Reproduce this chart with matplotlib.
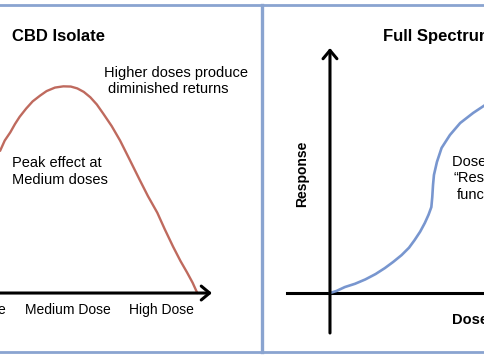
import matplotlib
matplotlib.use('Agg')
import matplotlib.pyplot as plt
from matplotlib.lines import Line2D

plt.rcParams['font.family'] = ['Liberation Sans', 'DejaVu Sans']

# CBD isolate: bell shaped dose response (dose units, response %)
iso_dose = [1.27, 1.32, 1.38, 1.43, 1.48, 1.55, 1.62, 1.70, 1.77, 1.86, 1.95, 2.03, 2.10, 2.17,
            2.24, 2.31, 2.38, 2.47, 2.56, 2.66, 2.77, 2.86, 2.96, 3.04, 3.13, 3.21, 3.28, 3.34, 3.39]
iso_resp = [69, 74, 78, 82, 85.5, 89.5, 93, 95.8, 98, 99.7, 100.3, 100.2, 99.3, 97.6,
            95, 91.5, 87, 81, 74, 65, 55, 47, 39, 31, 22.5, 15.5, 10, 5, 0]
dose_labels = ['Low Dose', 'Medium Dose', 'High Dose']
dose_ticks = [1, 2, 3]

# full spectrum: rising dose response
full_dose = [0, 0.07, 0.16, 0.27, 0.38, 0.49, 0.59, 0.68, 0.77, 0.85, 0.91, 0.97, 1.02, 1.06,
             1.09, 1.10, 1.108, 1.118, 1.15, 1.20, 1.29, 1.40, 1.54, 1.67, 1.88]
full_resp = [0, 1.0, 2.9, 4.5, 6.6, 9.2, 12.1, 15.1, 18.4, 22.0, 25.7, 29.8, 34.0, 38.0,
             41.7, 46.6, 52.4, 57.3, 63.6, 70.4, 76.7, 82.5, 87.4, 91.3, 97]

red = '#bf6a5e'
blue = '#7896cf'
frame = '#8aa4d0'

fig = plt.figure(figsize=(4.85, 3.6), dpi=100)
fig.patch.set_facecolor('white')

# left panel
ax1 = fig.add_axes([0, 0, 262 / 485, 1])
ax1.set_xlim(1.269, 4.086)
ax1.set_ylim(-32.5, 142.2)
ax1.axis('off')

ax1.annotate('', xy=(3.548, 0), xytext=(1.0, 0),
             arrowprops=dict(arrowstyle='->,head_length=0.6,head_width=0.5',
                             lw=2.2, color='black', shrinkA=0, shrinkB=0))
ax1.plot(iso_dose, iso_resp, color=red, lw=1.7, solid_capstyle='round', solid_joinstyle='round')
for d, lab in zip(dose_ticks, dose_labels):
    ax1.text(d, -8.3, lab, ha='center', va='center', fontsize=10)

ax1.text(1.398, 124.3, 'CBD Isolate', fontsize=12, fontweight='bold', va='center')
ax1.text(2.387, 106.8, 'Higher doses produce', fontsize=10.5, va='center')
ax1.text(2.43, 99.0, 'diminished returns', fontsize=10.5, va='center')
ax1.text(1.398, 63.1, 'Peak effect at', fontsize=10.5, va='center')
ax1.text(1.398, 55.0, 'Medium doses', fontsize=10.5, va='center')

# right panel
ax2 = fig.add_axes([262 / 485, 0, 223 / 485, 1])
ax2.set_xlim(-0.731, 1.667)
ax2.set_ylim(-32.5, 142.2)
ax2.axis('off')

ax2.annotate('', xy=(0, 118.9), xytext=(0, -19.4),
             arrowprops=dict(arrowstyle='->,head_length=0.6,head_width=0.5',
                             lw=2.2, color='black', shrinkA=0, shrinkB=0))
ax2.plot([-0.462, 2.0], [0, 0], color='black', lw=2.2)
ax2.plot(full_dose, full_resp, color=blue, lw=1.9, solid_capstyle='round', solid_joinstyle='round')

ax2.text(0.57, 124.3, 'Full Spectrum', fontsize=12, fontweight='bold', va='center')
ax2.text(-0.30, 57.8, 'Response', fontsize=10, fontweight='bold', rotation=90,
         ha='center', va='center')
ax2.text(1.312, 63.6, 'Dose dependent', fontsize=10.5, va='center')
ax2.text(1.323, 55.8, '\u201cResponse\u201d', fontsize=10.5, va='center')
ax2.text(1.366, 47.6, 'function', fontsize=10.5, va='center')
ax2.text(1.312, -13.1, 'Dose', fontsize=10.5, fontweight='bold', va='center')

# panel frames
fig.add_artist(Line2D([0, 1], [1 - 5 / 360, 1 - 5 / 360], transform=fig.transFigure,
                      color=frame, lw=2))
fig.add_artist(Line2D([0, 1], [1 - 352 / 360, 1 - 352 / 360], transform=fig.transFigure,
                      color=frame, lw=2))
fig.add_artist(Line2D([262 / 485, 262 / 485], [1 - 5 / 360, 1 - 352 / 360],
                      transform=fig.transFigure, color=frame, lw=2.4))

fig.savefig('out.png', dpi=100, facecolor='white')
